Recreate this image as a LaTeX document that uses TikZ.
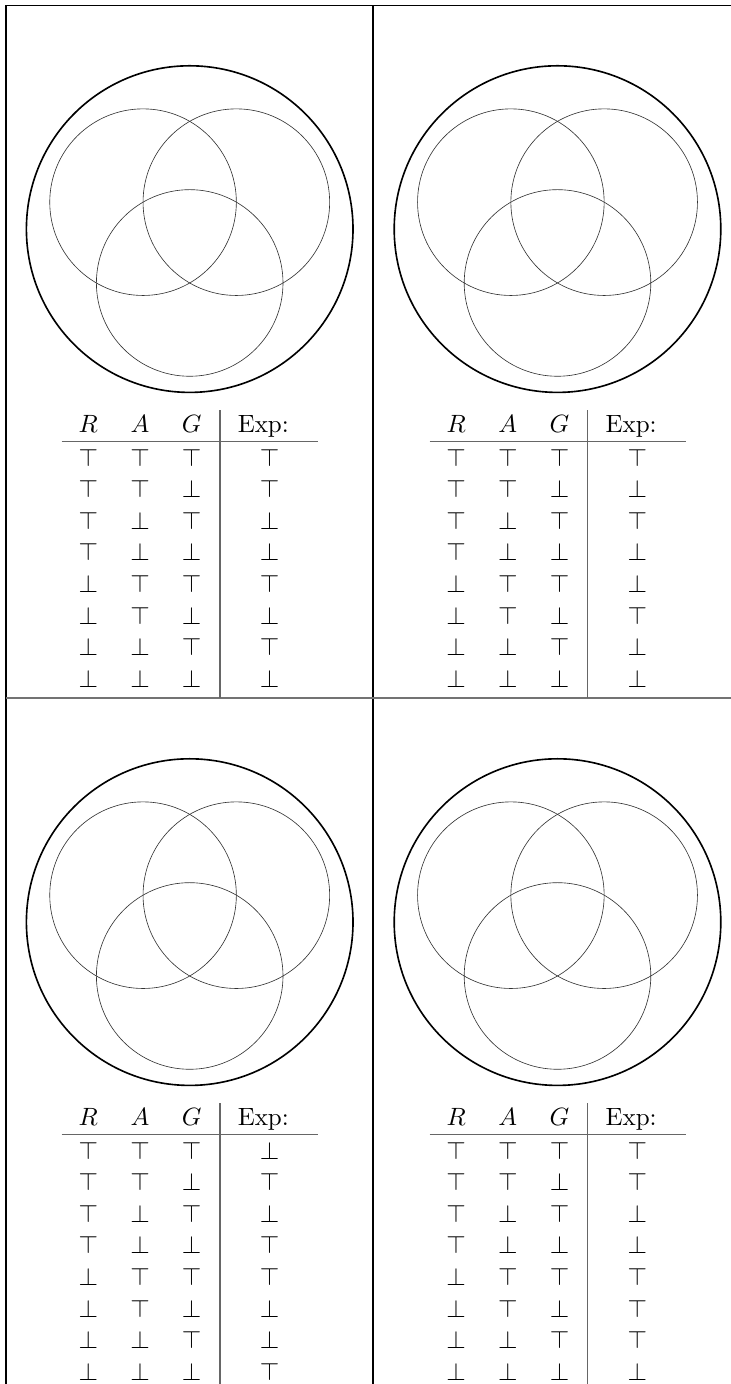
\documentclass[tikz,border=0pt]{standalone}
\tikzset{
  outerc/.style={line width=0.65pt, draw=black},
  innerc/.style={line width=0.25pt, draw=black!80},
  cellline/.style={line width=0.45pt, draw=black},
  sepline/.style={line width=0.8pt, draw=black!55},
  tabrule/.style={line width=0.5pt, draw=black!60},
  sym/.style={anchor=base, inner sep=0pt, font=\fontsize{10}{12}\selectfont},
}
\newcommand{\venncell}[4]{%
  \begin{scope}[shift={(#2,#3)}]
    % circles
    \draw[outerc] (189.7,229.1) circle[radius=163.3];
    \draw[innerc] (143.05,202.17) circle[radius=93.3];
    \draw[innerc] (236.35,202.17) circle[radius=93.3];
    \draw[innerc] (189.7,282.97) circle[radius=93.3];
    % header
    \node[sym] (#1-hR) at (88.3,432) {$R$};
    \node[sym] (#1-hA) at (140,432) {$A$};
    \node[sym] (#1-hG) at (191.7,432) {$G$};
    \node[sym] (#1-hE) at (263.3,432) {Exp:};
    \draw[tabrule] (61.7,441.7) -- (318,441.7);
    \draw[tabrule] (220,410) -- (220,697.7);
    % rows
    \foreach \rr/\aa/\gg [count=\i] in
      {\top/\top/\top,\top/\top/\bot,\top/\bot/\top,\top/\bot/\bot,
       \bot/\top/\top,\bot/\top/\bot,\bot/\bot/\top,\bot/\bot/\bot}{
      \pgfmathsetmacro{\yb}{466+31.6*(\i-1)}
      \node[sym] (#1-r\i) at (88.3,\yb) {$\rr$};
      \node[sym] (#1-a\i) at (140,\yb) {$\aa$};
      \node[sym] (#1-g\i) at (191.7,\yb) {$\gg$};
    }
    \foreach \ee [count=\i] in {#4}{
      \pgfmathsetmacro{\yb}{466+31.6*(\i-1)}
      \node[sym] (#1-e\i) at (269.5,\yb) {$\ee$};
    }
  \end{scope}
}
\begin{document}
\begin{tikzpicture}[x=0.4pt,y=-0.4pt]
  \useasboundingbox (0,0) rectangle (731,1384);
  \clip (0,0) rectangle (731,1384);
  \fill[white] (0,0) rectangle (731,1384);
  % cell borders
  \draw[cellline] (6,5.3) -- (731,5.3);
  \draw[cellline] (6,5.3) -- (6,1384);
  \draw[cellline] (373,5.3) -- (373,1384);
  \draw[sepline] (6,697.7) -- (731,697.7);
  % cells
  \venncell{tl}{0}{0}{\top,\top,\bot,\bot,\top,\bot,\top,\bot}
  \venncell{tr}{367.8}{0}{\top,\bot,\top,\bot,\bot,\top,\bot,\bot}
  \venncell{bl}{0}{693}{\bot,\top,\bot,\top,\top,\bot,\bot,\top}
  \venncell{br}{367.8}{693}{\top,\top,\bot,\bot,\top,\top,\top,\bot}
\end{tikzpicture}
\end{document}
